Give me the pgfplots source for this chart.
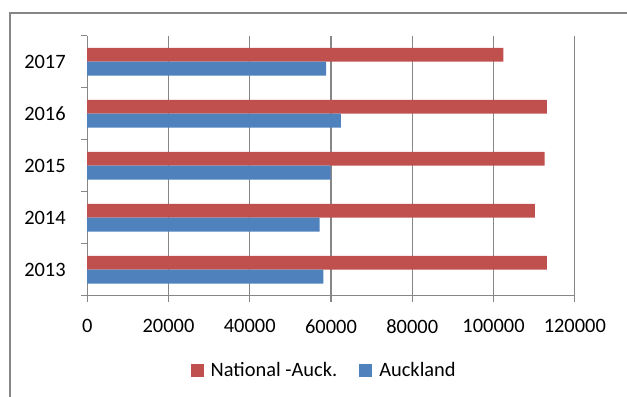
\documentclass[border=0pt]{standalone}
\usepackage{fontspec}
\setmainfont{Carlito}
\usepackage{pgfplots}
\pgfplotsset{compat=1.18}
\definecolor{xred}{HTML}{C0504D}
\definecolor{xblue}{HTML}{4F81BD}
\definecolor{gridg}{HTML}{868686}
\begin{document}
\begin{tikzpicture}
\useasboundingbox (0,0) rectangle (627bp,397bp);
\draw[color=gridg, line width=1.2bp] (10bp,0) -- (10bp,384bp) -- (627bp,384bp);
\begin{axis}[
  axis on top=false,
  at={(87.2bp,101.3bp)}, anchor=south west,
  scale only axis, width=487.6bp, height=260bp,
  xmin=0, xmax=120000, ymin=-0.5, ymax=4.5,
  bar width=13.8bp,
  font=\fontsize{20.5}{24}\selectfont,
  scaled x ticks=false,
  xtick={0,20000,40000,60000,80000,100000,120000},
  xticklabels={0,20000,40000,60000,80000,100000,120000},
  xticklabel style={yshift=-14bp},
  ytick={-0.5,0.5,1.5,2.5,3.5,4.5},
  yticklabels={2013,2014,2015,2016,2017},
  yticklabel style={xshift=-12bp},
  y tick label as interval,
  xmajorgrids, major grid style={gridg, line width=1.1bp},
  axis x line*=bottom, axis y line*=left,
  axis line style={gridg, line width=1.4bp, -},
  tick align=outside, major tick length=6bp,
  tick style={gridg, line width=1.1bp},
  legend columns=2,
  legend style={draw=none, fill=none, at={(0.486,-0.288)}, anchor=center,
    font=\fontsize{20.5}{24}\selectfont,
    /tikz/every even column/.append style={column sep=20bp}},
  legend image code/.code={\fill[#1] (0bp,-6.5bp) rectangle (13bp,6.5bp); \path (18bp,0);},
]
\addplot[xbar, fill=xred, draw=none, bar shift=6.9bp] coordinates {
  (113100,0) (110200,1) (112600,2) (113100,3) (102400,4)};
\addplot[xbar, fill=xblue, draw=none, bar shift=-6.9bp] coordinates {
  (58100,0) (57200,1) (59900,2) (62400,3) (58800,4)};
\legend{National -Auck., Auckland}
\end{axis}
\end{tikzpicture}
\end{document}
